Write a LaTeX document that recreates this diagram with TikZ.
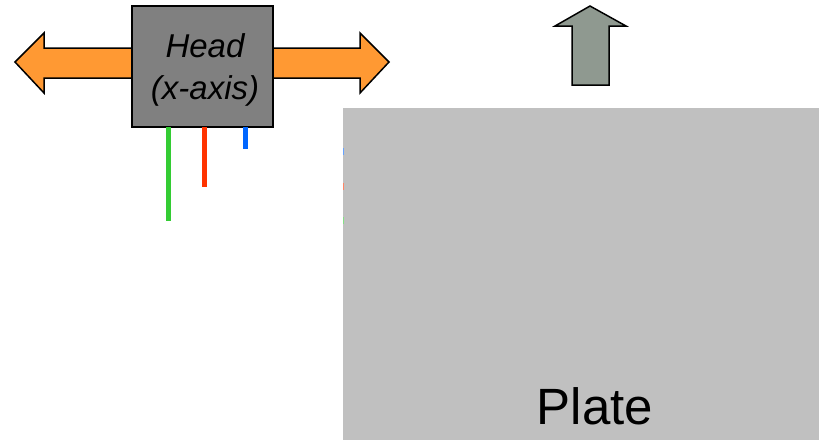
\documentclass[tikz,border=0pt]{standalone}
\usepackage{fontspec}
\setmainfont{Liberation Sans}
\definecolor{arrorange}{HTML}{FF9933}
\definecolor{headgray}{HTML}{808080}
\definecolor{upgray}{HTML}{8F9990}
\definecolor{plategray}{HTML}{C0C0C0}
\definecolor{lgreen}{HTML}{33CC33}
\definecolor{lred}{HTML}{FF3300}
\definecolor{lblue}{HTML}{0066FF}
\begin{document}
\begin{tikzpicture}[x=1pt,y=-1pt,
  shape outline/.style={draw=black,line width=1.5pt,line join=miter},
  probe/.style={line width=5pt}]
\useasboundingbox (0,0) rectangle (819,440);
% plate
\fill[plategray] (343,108) rectangle (819,440);
\node[anchor=base,inner sep=0pt,font=\fontsize{51}{55}\selectfont] (plate) at (595,424) {Plate};
% tiny marks on plate edge
\draw[lblue!60,line width=1pt] (343.5,148) -- (343.5,155);
\draw[lred!60,line width=1pt] (343.5,183) -- (343.5,190);
\draw[lgreen!60,line width=1pt] (343.5,217) -- (343.5,224);
% left/right arrows
\draw[shape outline,fill=arrorange] (132,48) -- (44,48) -- (44,33) -- (15,62) -- (44,93) -- (44,78) -- (132,78);
\draw[shape outline,fill=arrorange] (273,48) -- (360,48) -- (360,33) -- (389,62) -- (360,93) -- (360,78) -- (273,78);
% head box
\node[shape outline,fill=headgray,minimum width=141pt,minimum height=121pt,inner sep=0pt] (head) at (202.5,66.5) {};
\node[inner sep=0pt,align=center,font=\itshape\fontsize{33}{42}\selectfont] (headlabel) at (205,70) {Head\\(x-axis)};
% probes
\coordinate (g1) at (168,127); \coordinate (g2) at (168,221);
\coordinate (r1) at (204,127); \coordinate (r2) at (204,187);
\coordinate (b1) at (245,127); \coordinate (b2) at (245,149);
\draw[probe,lgreen] (g1) -- (g2);
\draw[probe,lred] (r1) -- (r2);
\draw[probe,lblue] (b1) -- (b2);
% up arrow
\draw[shape outline,fill=upgray] (572,85) -- (572,26) -- (555,26) -- (590,6) -- (626,26) -- (609,26) -- (609,85) -- cycle;
\end{tikzpicture}
\end{document}
